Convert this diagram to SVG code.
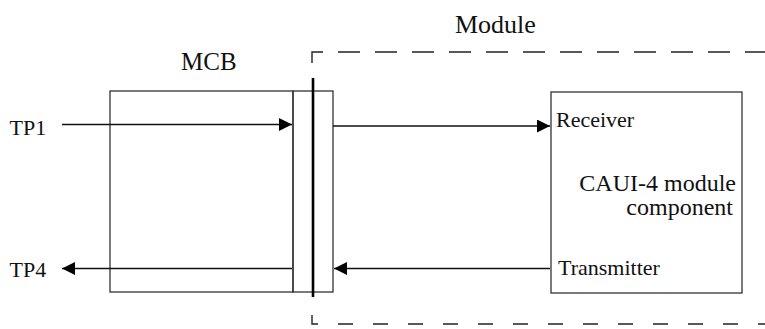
<svg xmlns="http://www.w3.org/2000/svg" width="765" height="329" viewBox="0 0 765 329">
  <style>
    .box { fill: none; stroke: #333; stroke-width: 1.3; }
    .conn { fill: none; stroke: #111; stroke-width: 1.3; }
    .dash { fill: none; stroke: #222; stroke-width: 1.4; }
    text { font-family: "Liberation Serif", "Times New Roman", serif; fill: #111; }
  </style>
  <defs>
    <marker id="arrow" markerUnits="userSpaceOnUse" markerWidth="13" markerHeight="13" refX="13" refY="6.5" orient="auto">
      <path d="M0,0 L13,6.5 L0,13 Z" fill="#000"/>
    </marker>
  </defs>
  <rect width="765" height="329" fill="#fff"/>

  <g id="module-boundary">
    <path class="dash" d="M312 63 L312 52 L775 52" stroke-dasharray="22 15"/>
    <path class="dash" d="M312 315 L312 324 L775 324" stroke-dasharray="15 20"/>
    <text x="455" y="33" font-size="26">Module</text>
  </g>

  <g id="mcb">
    <rect class="box" x="110" y="91" width="183" height="201"/>
    <text x="181" y="70" font-size="25">MCB</text>
  </g>

  <g id="connector">
    <rect class="box" x="293" y="91" width="40" height="201"/>
    <line x1="313" y1="78" x2="313" y2="297" stroke="#000" stroke-width="2.6"/>
  </g>

  <g id="caui">
    <rect class="box" x="551" y="92" width="191" height="201"/>
    <text x="556" y="127" font-size="22">Receiver</text>
    <text x="736" y="191" font-size="24" text-anchor="end">CAUI-4 module</text>
    <text x="733" y="215" font-size="24" text-anchor="end">component</text>
    <text x="558" y="275" font-size="22">Transmitter</text>
  </g>

  <g id="tp1"><text x="9.5" y="135" font-size="22">TP1</text></g>
  <g id="tp4"><text x="9.5" y="277" font-size="22">TP4</text></g>

  <g id="connectors">
    <line class="conn" x1="62" y1="124.5" x2="292" y2="124.5" marker-end="url(#arrow)"/>
    <line class="conn" x1="333" y1="126" x2="550" y2="126" marker-end="url(#arrow)"/>
    <line class="conn" x1="550" y1="268.5" x2="334" y2="268.5" marker-end="url(#arrow)"/>
    <line class="conn" x1="292" y1="268.5" x2="62" y2="268.5" marker-end="url(#arrow)"/>
  </g>
</svg>
